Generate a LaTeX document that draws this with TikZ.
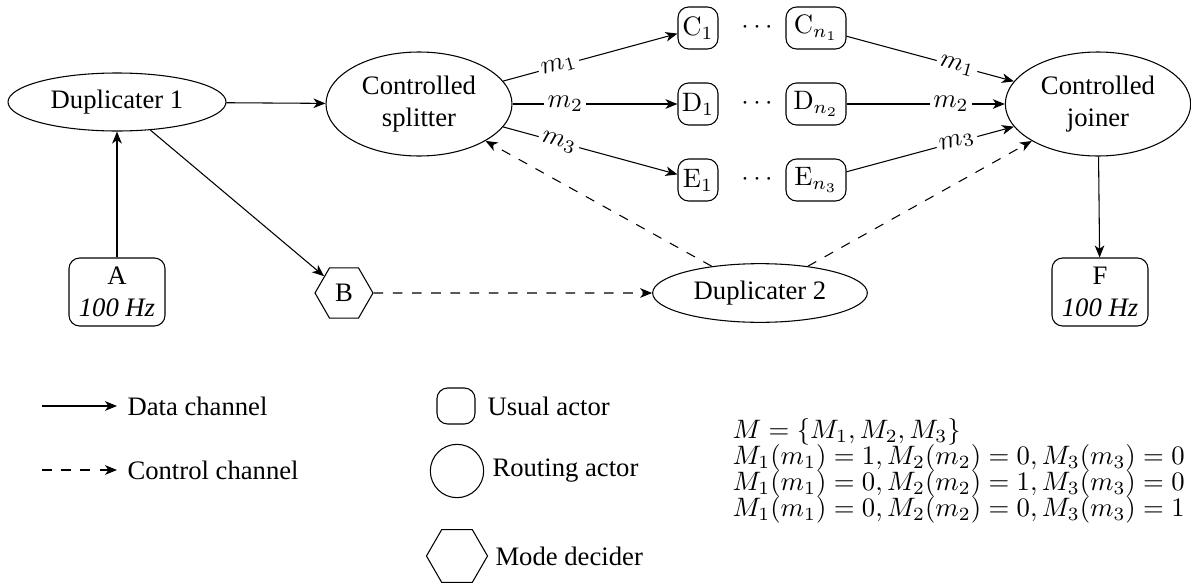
\documentclass[tikz,border=0pt]{standalone}
\usepackage[no-math]{fontspec}
\setmainfont{Liberation Serif}
\newfontfamily\timesfont{Liberation Serif}
\usetikzlibrary{shapes.geometric,arrows.meta}
\tikzset{
  >={Stealth[length=4.5pt,width=3.6pt,inset=1.3pt]},
  data/.style={->},
  ctrl/.style={->,dash pattern=on 3.6pt off 3.6pt},
  routing/.style={draw,ellipse,inner sep=0pt,align=center},
  usual/.style={draw,rounded corners=4pt,inner sep=0pt,align=center},
  decider/.style={draw,regular polygon,regular polygon sides=6,inner sep=0pt},
  lbl/.style={sloped,fill=white,inner sep=1.2pt},
  legendtext/.style={anchor=west,inner sep=0pt}
}
\begin{document}
\begin{tikzpicture}[x=0.375pt,y=-0.375pt,font=\timesfont\fontsize{10}{12}\selectfont]
\useasboundingbox (0,0) rectangle (1191,586);
% main nodes
\node[routing,minimum width=81.75pt,minimum height=21.75pt] (dup1) at (117,102) {Duplicater 1};
\node[usual,minimum width=36pt,minimum height=25.5pt] (A) at (117,292) {A\\\textit{100 Hz}};
\node[routing,minimum width=69.75pt,minimum height=39pt] (split) at (419,104) {Controlled\\splitter};
\node[usual,minimum width=15pt,minimum height=15.75pt] (C1) at (698,28) {$\mathrm{C}_1$};
\node[usual,minimum width=15pt,minimum height=15.75pt] (D1) at (698,104) {$\mathrm{D}_1$};
\node[usual,minimum width=15pt,minimum height=15.75pt] (E1) at (698,180) {$\mathrm{E}_1$};
\node (cdots) at (757,28) {$\cdots$};
\node (ddots) at (757,104) {$\cdots$};
\node (edots) at (757,180) {$\cdots$};
\node[usual,minimum width=22.5pt,minimum height=15.75pt] (Cn) at (816,28) {$\mathrm{C}_{n_1}$};
\node[usual,minimum width=22.5pt,minimum height=15.75pt] (Dn) at (816,104) {$\mathrm{D}_{n_2}$};
\node[usual,minimum width=22.5pt,minimum height=15.75pt] (En) at (816,180) {$\mathrm{E}_{n_3}$};
\node[routing,minimum width=69.5pt,minimum height=39pt] (join) at (1098,104) {Controlled\\joiner};
\node[usual,minimum width=36pt,minimum height=25.5pt] (F) at (1100,292) {F\\\textit{100 Hz}};
\node[routing,minimum width=80.5pt,minimum height=22pt] (dup2) at (760,293) {Duplicater 2};
\node[decider,minimum size=21.75pt] (B) at (344,293) {B};
% connectors
\draw[data] (A) -- (dup1);
\draw[data] (dup1) -- (split);
\draw[data] (dup1) -- (B);
\draw[ctrl] (B) -- (dup2);
\draw[ctrl] (dup2) -- (split);
\draw[ctrl] (dup2) -- (join);
\draw[data] (split) -- node[lbl,pos=0.32] {$m_1$} (C1);
\draw[data] (split) -- node[lbl,pos=0.32] {$m_2$} (D1);
\draw[data] (split) -- node[lbl,pos=0.32] {$m_3$} (E1);
\draw[data] (Cn) -- node[lbl,pos=0.66] {$m_1$} (join);
\draw[data] (Dn) -- node[lbl,pos=0.66] {$m_2$} (join);
\draw[data] (En) -- node[lbl,pos=0.66] {$m_3$} (join);
\draw[data] (join) -- (F);
% legend
\coordinate (d0) at (42,406);
\coordinate (d1) at (117,406);
\draw[data] (d0) -- (d1);
\node[legendtext] (dtext) at (127,406) {Data channel};
\coordinate (c0) at (42,470);
\coordinate (c1) at (117,470);
\draw[ctrl] (c0) -- (c1);
\node[legendtext] (ctext) at (127,470) {Control channel};
\node[usual,minimum width=14.25pt,minimum height=13.5pt] (lu) at (456,406) {};
\node[legendtext] (lutext) at (487,406) {Usual actor};
\node[draw,circle,inner sep=0pt,minimum size=20pt] (lr) at (457,471) {};
\node[legendtext] (lrtext) at (492,471) {Routing actor};
\node[decider,minimum size=22.9pt] (lm) at (457,556) {};
\node[legendtext] (lmtext) at (495,556) {Mode decider};
\node[anchor=west,inner sep=0pt,align=left] (modes) at (732,471) {%
$M=\{M_1,M_2,M_3\}$\\[-2.2pt]
$M_1(m_1)=1, M_2(m_2)=0, M_3(m_3)=0$\\[-2.2pt]
$M_1(m_1)=0, M_2(m_2)=1, M_3(m_3)=0$\\[-2.2pt]
$M_1(m_1)=0, M_2(m_2)=0, M_3(m_3)=1$};
\end{tikzpicture}
\end{document}
